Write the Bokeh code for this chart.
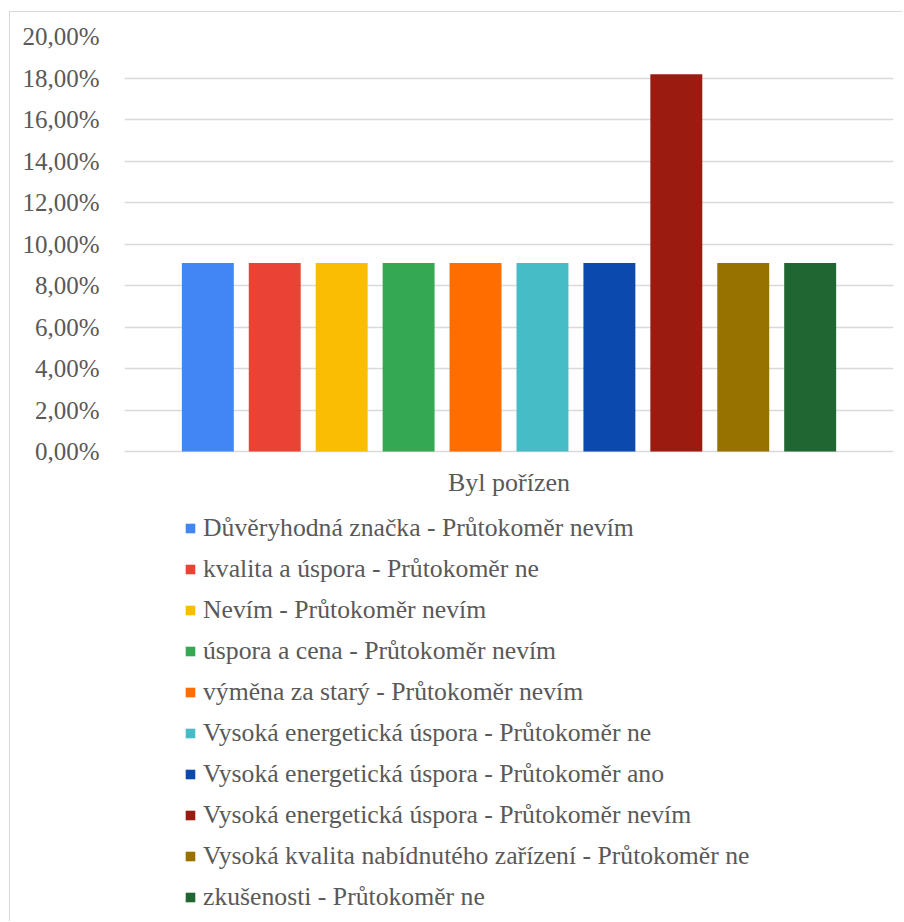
from bokeh.plotting import figure
from bokeh.models import (ColumnDataSource, FactorRange, Range1d, FixedTicker,
                          CustomJSTickFormatter, Legend, LegendItem, Label)
from bokeh.embed import file_html
from bokeh.resources import INLINE

category = "Byl pořízen"
series = [
    "Důvěryhodná značka - Průtokoměr nevím",
    "kvalita a úspora - Průtokoměr ne",
    "Nevím - Průtokoměr nevím",
    "úspora a cena - Průtokoměr nevím",
    "výměna za starý - Průtokoměr nevím",
    "Vysoká energetická úspora - Průtokoměr ne",
    "Vysoká energetická úspora - Průtokoměr ano",
    "Vysoká energetická úspora - Průtokoměr nevím",
    "Vysoká kvalita nabídnutého zařízení - Průtokoměr ne",
    "zkušenosti - Průtokoměr ne",
]
values = [9.09, 9.09, 9.09, 9.09, 9.09, 9.09, 9.09, 18.18, 9.09, 9.09]
colors = ["#4285F4", "#EA4335", "#FBBC04", "#34A853", "#FF6D01",
          "#46BDC6", "#0C49AE", "#9B1B11", "#977200", "#1F6633"]
y_ticks = [0, 2, 4, 6, 8, 10, 12, 14, 16, 18, 20]

FONT = "Liberation Serif"
TXT = "#595959"
GRID = "#d9d9d9"

# layout (figure pixels): value axis from top of frame to the 0 line,
# the frame continues below so the legend can live inside it
FIG_W, FIG_H = 893, 910
TOP = 24
ZERO = 439
y_max = y_ticks[-1]
px_per_unit = (ZERO - TOP) / y_max
y_min = -(FIG_H - ZERO) / px_per_unit

src = ColumnDataSource(dict(name=series, value=values, color=colors))

p = figure(
    width=FIG_W, height=FIG_H,
    x_range=FactorRange(factors=series, range_padding=0.149),
    y_range=Range1d(y_min, y_max),
    output_backend="svg", toolbar_location=None,
    min_border_left=114, min_border_right=10, min_border_top=TOP, min_border_bottom=0,
    styles={"margin-left": "9px", "margin-top": "11px",
            "border-left": "1px solid #d9d9d9", "border-top": "1px solid #d9d9d9"},
)
p.outline_line_color = None
p.background_fill_color = "white"
p.border_fill_color = "white"

r = p.vbar(x="name", top="value", width=0.776, color="color", line_color=None, source=src)

# y axis
p.yaxis.ticker = FixedTicker(ticks=y_ticks)
p.yaxis.formatter = CustomJSTickFormatter(code="return tick.toFixed(2).replace('.', ',') + '%';")
p.yaxis.axis_line_color = None
p.yaxis.major_tick_line_color = None
p.yaxis.minor_tick_line_color = None
p.yaxis.major_label_standoff = 19
p.yaxis.major_label_text_font = FONT
p.yaxis.major_label_text_font_size = "25px"
p.yaxis.major_label_text_color = TXT
p.ygrid.grid_line_color = GRID
p.ygrid.grid_line_width = 1.5
p.xgrid.grid_line_color = None
p.xaxis.visible = False

# category title under the bars
p.add_layout(Label(
    x=len(series) / 2, y=-31 / px_per_unit, text=category,
    text_font=FONT, text_font_size="26px", text_color=TXT,
    text_align="center", text_baseline="middle",
))

items = [LegendItem(label=s, renderers=[r], index=i) for i, s in enumerate(series)]
legend = Legend(
    items=items, orientation="vertical", location=(60, 10),
    label_text_font=FONT, label_text_font_size="25.7px", label_text_color=TXT,
    glyph_width=12, glyph_height=12, label_standoff=7,
    label_height=30, spacing=11, padding=0, margin=0,
    border_line_color=None, background_fill_alpha=0,
)
p.add_layout(legend, "center")

open("out.html", "w").write(file_html(p, INLINE))
